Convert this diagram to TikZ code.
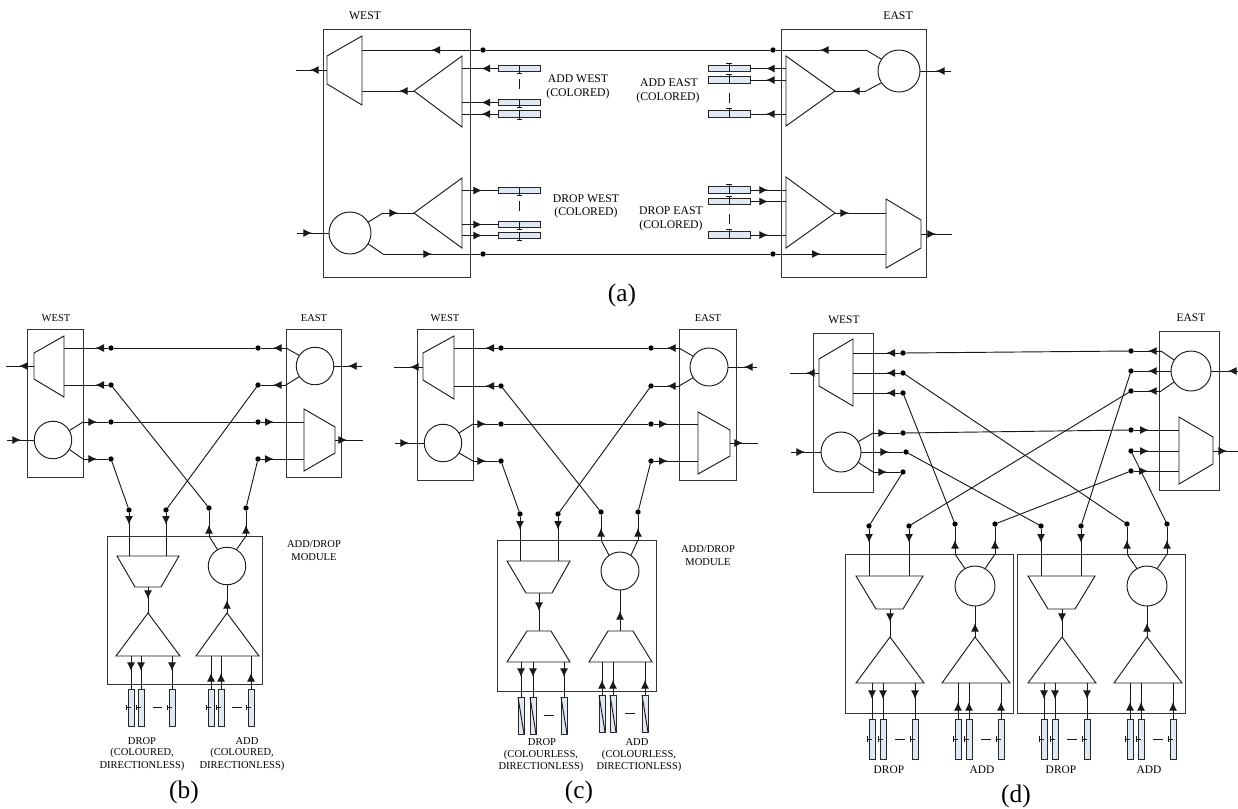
\documentclass[tikz,border=0pt]{standalone}
\usepackage{fontspec}
\setmainfont{Liberation Serif}
\usetikzlibrary{decorations.markings,arrows.meta}
\tikzset{
 x=0.75pt,y=-0.75pt,
 wire/.style={line width=0.7pt,draw=black!90},
 arr/.style={postaction={decorate},decoration={markings,mark=at position #1*0.75pt with {\arrow{Latex[length=6.5pt,width=6pt]}}}},
 shp/.style={line width=0.7pt,draw=black!90,line join=miter},
 boxn/.style={rectangle,draw=black!80,line width=0.7pt,inner sep=0pt,outer sep=0pt},
 dotn/.style={circle,fill=black,inner sep=0pt,minimum size=4pt,outer sep=0pt},
 ring/.style={circle,draw=black!90,line width=0.7pt,inner sep=0pt,outer sep=0pt,minimum size=#1*0.75pt},
 txh/.style={rectangle,draw=black!85,fill=txfill,line width=0.7pt,inner sep=0pt,outer sep=0pt,minimum width=31.5pt,minimum height=5pt},
 txv/.style={rectangle,draw=black!85,fill=txfill,line width=0.7pt,inner sep=0pt,outer sep=0pt,minimum width=4.5pt,minimum height=#1*0.75pt},
 lbla/.style={font=\fontsize{8.8pt}{10pt}\selectfont,inner sep=0pt},
 lblb/.style={font=\fontsize{7.9pt}{9pt}\selectfont,inner sep=0pt},
 lbld/.style={font=\fontsize{8.6pt}{10pt}\selectfont,inner sep=0pt},
 capn/.style={font=\fontsize{19pt}{21pt}\selectfont,inner sep=0pt},
}
\definecolor{txfill}{HTML}{E0E8F4}
\newcommand{\Pt}[2]{\coordinate (#1) at (#2);}
\newcommand{\Dot}[2]{\node[dotn] (#1) at (#2) {};}
% horizontal transceiver: tick below (B) or above (T)
\newcommand{\TxB}[2]{\node[txh] (#1) at (#2) {};
 \draw[wire] (#1.north) -- ([yshift=-1.5pt]#1.south);
 \draw[wire] ([xshift=-2.2pt,yshift=-1.5pt]#1.south) -- ([xshift=2.2pt,yshift=-1.5pt]#1.south);}
\newcommand{\TxT}[2]{\node[txh] (#1) at (#2) {};
 \draw[wire] (#1.south) -- ([yshift=1.5pt]#1.north);
 \draw[wire] ([xshift=-2.2pt,yshift=1.5pt]#1.north) -- ([xshift=2.2pt,yshift=1.5pt]#1.north);}
% vertical transceiver with side tick
\newcommand{\TxV}[3]{\node[txv=#3] (#1) at (#2) {};
 \draw[wire] (#1.center) -- ([xshift=-1.5pt]#1.west);
 \draw[wire] ([xshift=-1.5pt,yshift=-2.2pt]#1.west) -- ([xshift=-1.5pt,yshift=2.2pt]#1.west);}
\newcommand{\TxZ}[3]{\node[txv=#3] (#1) at (#2) {};
 \draw[wire] (#1.north west) -- (#1.south east);}
\begin{document}
\begin{tikzpicture}
\useasboundingbox (0,0) rectangle (1238,808);
%% ---------------- panel (a) ----------------
\node[boxn,minimum width=110.25pt,minimum height=186pt] (aWest) at (396.5,153) {};
\node[boxn,minimum width=108.75pt,minimum height=186pt] (aEast) at (853.5,153) {};
\node[lbla] (aWestL) at (365,16) {WEST};
\node[lbla] (aEastL) at (898,16) {EAST};
\draw[shp] (362,36)--(327,56)--(327,84)--(362,105)--cycle;
\draw[shp] (414,91)--(462,56)--(462,127)--cycle;
\draw[shp] (414,213)--(462,178)--(462,248)--cycle;
\draw[shp] (835,91)--(786,56)--(786,126)--cycle;
\draw[shp] (835,213)--(786,177)--(786,248)--cycle;
\draw[shp] (886,199)--(921,220)--(921,248)--(886,268)--cycle;
\node[ring=42] (aCW) at (350,233) {};
\node[ring=42] (aCE) at (899,71) {};
\Dot{aD1}{483,50}\Dot{aD2}{773,50}\Dot{aD3}{483,254}\Dot{aD4}{773,254}
\Pt{aM1}{362,50}\Pt{aB1}{866,50}\Pt{aB2}{866,91}\Pt{aAp1}{835,91}\Pt{aAp2}{414,91}\Pt{aM2}{362,91}
\Pt{aOutW}{296,70}\Pt{aMW}{327,70}\Pt{aInW}{297,233}\Pt{aInE}{951,71}
\Pt{aB3}{383,213}\Pt{aAp3}{414,213}\Pt{aB4}{383,254}\Pt{aAp4}{835,213}\Pt{aM3}{886,213}\Pt{aM4}{886,254}
\Pt{aME}{921,234}\Pt{aOutE}{952,234}
\draw[wire] (aCE.146) -- (aB1);
\draw[wire,arr=46] (aB1) -- (aD2);
\draw[wire] (aD2) -- (aD1);
\draw[wire,arr=49] (aD1) -- (aM1);
\draw[wire] (aCE.214) -- (aB2);
\draw[wire,arr=15] (aB2) -- (aAp1);
\draw[wire,arr=15] (aAp2) -- (aM2);
\draw[wire,arr=17] (aMW) -- (aOutW);
\draw[wire,arr=15] (aInW) -- (aCW.west);
\draw[wire,arr=15] (aInE) -- (aCE.east);
\draw[wire] (aCW.31) -- (aB3);
\draw[wire,arr=15] (aB3) -- (aAp3);
\draw[wire] (aCW.-31) -- (aB4);
\draw[wire,arr=49] (aB4) -- (aD3);
\draw[wire] (aD3) -- (aD4);
\draw[wire,arr=45] (aD4) -- (aM4);
\draw[wire,arr=14] (aAp4) -- (aM3);
\draw[wire,arr=15] (aME) -- (aOutE);
\Pt{aBaseW}{462,0}\Pt{aBaseE}{786,0}
\TxB{aWA1}{519.5,68.5}\TxB{aWA2}{519.5,102.5}\TxB{aWA3}{519.5,114}
\TxB{aWD1}{519.5,190.5}\TxB{aWD2}{519.5,224.5}\TxB{aWD3}{519.5,235.5}
\TxT{aEA1}{729,68.5}\TxT{aEA2}{729,80}\TxT{aEA3}{729,114}
\TxT{aED1}{729,190}\TxT{aED2}{729,201.5}\TxT{aED3}{729,235}
\foreach \n in {1,2,3}{
 \draw[wire,arr=17] (aWA\n.west) -- (aWA\n.west -| aBaseW);
 \draw[wire,arr=20] (aWD\n.west -| aBaseW) -- (aWD\n.west);
 \draw[wire,arr=20] (aEA\n.east -| aBaseE) -- (aEA\n.east);
 \draw[wire,arr=18] (aED\n.east) -- (aED\n.east -| aBaseE);
}
\Pt{aDa1}{519,79}\Pt{aDa2}{519,89}\draw[wire] (aDa1) -- (aDa2);
\Pt{aDb1}{519,201}\Pt{aDb2}{519,211}\draw[wire] (aDb1) -- (aDb2);
\Pt{aDc1}{729,93}\Pt{aDc2}{729,103}\draw[wire] (aDc1) -- (aDc2);
\Pt{aDd1}{729,214}\Pt{aDd2}{729,224}\draw[wire] (aDd1) -- (aDd2);
\node[lbla] (aT1) at (578,79) {ADD WEST};
\node[lbla] (aT2) at (578,94) {(COLORED)};
\node[lbla] (aT3) at (586,199) {DROP WEST};
\node[lbla] (aT4) at (586,213) {(COLORED)};
\node[lbla] (aT5) at (669,83) {ADD EAST};
\node[lbla] (aT6) at (668,98) {(COLORED)};
\node[lbla] (aT7) at (671,211) {DROP EAST};
\node[lbla] (aT8) at (671,226) {(COLORED)};
\node[capn] (aCap) at (622,295) {(a)};
%% ---------------- panel (b) ----------------
\node[boxn,minimum width=42pt,minimum height=111pt] (bWest) at (55,403) {};
\node[boxn,minimum width=41.25pt,minimum height=111pt] (bEast) at (313.5,403) {};
\node[lblb] (bWestL) at (56,318) {WEST};
\node[lblb] (bEastL) at (314,318) {EAST};
\draw[shp] (64,336)--(34,353)--(34,379)--(64,397)--cycle;
\draw[shp] (304,409)--(335,427)--(335,453)--(304,471)--cycle;
\node[ring=37.5] (bCW) at (53,440) {};
\node[ring=37.5] (bCE) at (315,366) {};
\foreach \n/\y in {1/348,2/385,3/422,4/459}{\Dot{bW\n}{111,\y}\Dot{bE\n}{258,\y}}
\Dot{bD1}{129,510}\Dot{bD2}{166,510}\Dot{bA1}{209,508}\Dot{bA2}{246,508}
\Pt{bM1}{64,348}\Pt{bM2}{64,385}\Pt{bB3}{83,422}\Pt{bB4}{83,459}\Pt{bB1}{286,348}\Pt{bB2}{286,385}
\Pt{bM3}{304,422}\Pt{bM4}{304,459}\Pt{bOW}{6,366}\Pt{bMW}{34,366}\Pt{bIW}{7,440}\Pt{bIE}{362,366}\Pt{bME}{335,440}\Pt{bOE}{363,440}
\draw[wire,arr=13] (bW1) -- (bM1);\draw[wire,arr=13] (bW2) -- (bM2);
\draw[wire] (bW1) -- (bE1);\draw[wire] (bW3) -- (bE3);
\draw[wire] (bCW.30) -- (bB3);\draw[wire] (bCW.-30) -- (bB4);
\draw[wire,arr=14] (bB3) -- (bW3);\draw[wire,arr=14] (bB4) -- (bW4);
\draw[wire] (bCE.146) -- (bB1);\draw[wire] (bCE.214) -- (bB2);
\draw[wire,arr=13] (bB1) -- (bE1);\draw[wire,arr=13] (bB2) -- (bE2);
\draw[wire,arr=13] (bE3) -- (bM3);\draw[wire,arr=13] (bE4) -- (bM4);
\draw[wire,arr=15] (bMW) -- (bOW);\draw[wire,arr=14] (bIW) -- (bCW.west);
\draw[wire,arr=14] (bIE) -- (bCE.east);\draw[wire,arr=12] (bME) -- (bOE);
\draw[wire] (bW4) -- (bD1);\draw[wire] (bE2) -- (bD2);\draw[wire] (bW2) -- (bA1);\draw[wire] (bE4) -- (bA2);
\node[boxn,minimum width=116.25pt,minimum height=111pt] (bMod) at (184.5,610) {};
\draw[shp] (117,556)--(179,556)--(161,587)--(135,587)--cycle;
\node[ring=37.5] (bCA) at (227,566) {};
\draw[shp] (148,613)--(116,656)--(180,656)--cycle;
\draw[shp] (227,613)--(196,656)--(259,656)--cycle;
\Pt{bT1}{129,556}\Pt{bT2}{166,556}\Pt{bU1}{209,536}\Pt{bU2}{246,536}
\Pt{bS1}{148,587}\Pt{bS2}{148,613}\Pt{bS3}{227,613}\Pt{bBase}{0,656}
\draw[wire,arr=12] (bD1) -- (bT1);\draw[wire,arr=12] (bD2) -- (bT2);
\draw[wire] (bCA.120) -- (bU1);\draw[wire] (bCA.60) -- (bU2);
\draw[wire,arr=11] (bU1) -- (bA1);\draw[wire,arr=11] (bU2) -- (bA2);
\draw[wire,arr=12] (bS1) -- (bS2);
\draw[wire,arr=13] (bS3) -- (bCA.south);
\foreach \n/\x in {1/131,2/141,3/172}{
 \TxV{bTd\n}{\x,707.5}{37}
 \draw[wire,arr=15] (bTd\n.north |- bBase) -- (bTd\n.north);}
\foreach \n/\x in {1/211,2/221,3/251}{
 \TxV{bTa\n}{\x,707.5}{37}
 \draw[wire,arr=16] (bTa\n.north) -- (bTa\n.north |- bBase);}
\Pt{bDs1}{153,707}\Pt{bDs2}{162,707}\draw[wire] (bDs1) -- (bDs2);
\Pt{bDs3}{232,707}\Pt{bDs4}{242,707}\draw[wire] (bDs3) -- (bDs4);
\node[lblb] (bT3) at (142,741) {DROP};
\node[lblb] (bT4) at (142,753) {(COLOURED,};
\node[lblb] (bT5) at (142,766) {DIRECTIONLESS)};
\node[lblb] (bT6) at (247,741) {ADD};
\node[lblb] (bT7) at (242,753) {(COLOURED,};
\node[lblb] (bT8) at (242,766) {DIRECTIONLESS)};
\node[lblb] (bT9) at (314,544) {ADD/DROP};
\node[lblb] (bT10) at (314,557) {MODULE};
\node[capn] (bCap) at (184,792) {(b)};
%% ---------------- panel (c) ----------------
\node[boxn,minimum width=42pt,minimum height=113.25pt] (cWest) at (445,404.5) {};
\node[boxn,minimum width=42.75pt,minimum height=113.25pt] (cEast) at (707.5,404.5) {};
\node[lblb] (cWestL) at (445,318) {WEST};
\node[lblb] (cEastL) at (708,318) {EAST};
\draw[shp] (454,336)--(423,353)--(423,380)--(454,399)--cycle;
\draw[shp] (698,412)--(730,430)--(730,456)--(698,474)--cycle;
\node[ring=37.5] (cCW) at (443,443) {};
\node[ring=38] (cCE) at (709,367) {};
\foreach \n/\y in {1/348,2/386,3/424,4/461}{\Dot{cW\n}{501,\y}\Dot{cE\n}{651,\y}}
\Dot{cD1}{520,514}\Dot{cD2}{558,514}\Dot{cA1}{601,512}\Dot{cA2}{638,512}
\Pt{cM1}{454,348}\Pt{cM2}{454,386}\Pt{cB3}{473,424}\Pt{cB4}{473,461}\Pt{cB1}{679,348}\Pt{cB2}{679,386}
\Pt{cM3}{698,424}\Pt{cM4}{698,461}\Pt{cOW}{394,367}\Pt{cMW}{423,367}\Pt{cIW}{395,443}\Pt{cIE}{757,367}\Pt{cME}{730,443}\Pt{cOE}{758,443}
\draw[wire,arr=13] (cW1) -- (cM1);\draw[wire,arr=13] (cW2) -- (cM2);
\draw[wire] (cW1) -- (cE1);\draw[wire] (cW3) -- (cE3);
\draw[wire] (cCW.32) -- (cB3);\draw[wire] (cCW.-32) -- (cB4);
\draw[wire,arr=13] (cB3) -- (cW3);\draw[wire,arr=13] (cB4) -- (cW4);
\draw[wire] (cCE.146) -- (cB1);\draw[wire] (cCE.214) -- (cB2);
\draw[wire,arr=12] (cB1) -- (cE1);\draw[wire,arr=12] (cB2) -- (cE2);
\draw[wire,arr=14] (cE3) -- (cM3);\draw[wire,arr=14] (cE4) -- (cM4);
\draw[wire,arr=13] (cMW) -- (cOW);\draw[wire,arr=14] (cIW) -- (cCW.west);
\draw[wire,arr=13] (cIE) -- (cCE.east);\draw[wire,arr=13] (cME) -- (cOE);
\draw[wire] (cW4) -- (cD1);\draw[wire] (cE2) -- (cD2);\draw[wire] (cW2) -- (cA1);\draw[wire] (cE4) -- (cA2);
\node[boxn,minimum width=119.25pt,minimum height=113.25pt] (cMod) at (576.5,615.5) {};
\draw[shp] (507,561)--(570,561)--(552,593)--(526,593)--cycle;
\node[ring=38] (cCA) at (620,571) {};
\draw[shp] (527,631)--(551,631)--(570,662)--(507,662)--cycle;
\draw[shp] (608,631)--(633,631)--(652,662)--(589,662)--cycle;
\Pt{cT1}{520,561}\Pt{cT2}{558,561}\Pt{cU1}{601,540}\Pt{cU2}{638,540}
\Pt{cS1}{539,593}\Pt{cS2}{539,631}\Pt{cS3}{620,631}\Pt{cBase}{0,662}
\draw[wire,arr=13] (cD1) -- (cT1);\draw[wire,arr=13] (cD2) -- (cT2);
\draw[wire] (cCA.125) -- (cU1);\draw[wire] (cCA.55) -- (cU2);
\draw[wire,arr=12] (cU1) -- (cA1);\draw[wire,arr=12] (cU2) -- (cA2);
\draw[wire,arr=18] (cS1) -- (cS2);
\draw[wire,arr=20] (cS3) -- (cCA.south);
\foreach \n/\x in {1/521,2/533,3/564}{
 \TxZ{cTd\n}{\x,715.5}{37}
 \draw[wire,arr=15] (cTd\n.north |- cBase) -- (cTd\n.north);}
\foreach \n/\x in {1/602,2/613,3/645}{
 \TxZ{cTa\n}{\x,713.5}{37}
 \draw[wire,arr=15] (cTa\n.north) -- (cTa\n.north |- cBase);}
\Pt{cDs1}{544,715}\Pt{cDs2}{554,715}\draw[wire] (cDs1) -- (cDs2);
\Pt{cDs3}{625,713}\Pt{cDs4}{635,713}\draw[wire] (cDs3) -- (cDs4);
\node[lblb] (cT3) at (542,742) {DROP};
\node[lblb] (cT4) at (541,755) {(COLOURLESS,};
\node[lblb] (cT5) at (541,767) {DIRECTIONLESS)};
\node[lblb] (cT6) at (637,742) {ADD};
\node[lblb] (cT7) at (639,755) {(COLOURLESS,};
\node[lblb] (cT8) at (639,767) {DIRECTIONLESS)};
\node[lblb] (cT9) at (708,549) {ADD/DROP};
\node[lblb] (cT10) at (708,562) {MODULE};
\node[capn] (cCap) at (579,792) {(c)};
%% ---------------- panel (d) ----------------
\node[boxn,minimum width=45pt,minimum height=119.25pt] (dWest) at (843,412.5) {};
\node[boxn,minimum width=45pt,minimum height=119.25pt] (dEast) at (1189,410.5) {};
\node[lbld] (dWestL) at (844,320) {WEST};
\node[lbld] (dEastL) at (1191,318) {EAST};
\draw[shp] (853,339)--(819,359)--(819,386)--(853,406)--cycle;
\draw[shp] (1179,417)--(1213,437)--(1213,464)--(1179,484)--cycle;
\node[ring=40] (dCW) at (841,452) {};
\node[ring=40] (dCE) at (1191,371) {};
\Dot{dW1}{903,353}\Dot{dW2}{903,373}\Dot{dW3}{903,393}
\Dot{dW4}{903,433}\Dot{dW5}{906,452}\Dot{dW6}{903,472}
\Dot{dE1}{1131,351}\Dot{dE2}{1131,371}\Dot{dE3}{1131,391}
\Dot{dE4}{1131,430}\Dot{dE5}{1131,451}\Dot{dE6}{1131,471}
\Pt{dM1}{853,353}\Pt{dM2}{853,373}\Pt{dM3}{853,393}
\Pt{dB4}{873,433}\Pt{dB6}{873,472}\Pt{dB1}{1161,351}\Pt{dB3}{1161,391}
\Pt{dM4}{1179,430}\Pt{dM5}{1179,451}\Pt{dM6}{1179,471}
\Pt{dOW}{790,373}\Pt{dMW}{819,373}\Pt{dIW}{791,452}\Pt{dIE}{1238,371}\Pt{dME}{1213,451}\Pt{dOE}{1238,451}
\foreach \n in {1,2,3}{\draw[wire,arr=14] (dW\n) -- (dM\n);}
\draw[wire] (dW1) -- (dE1);\draw[wire] (dW4) -- (dE4);
\draw[wire] (dCW.31) -- (dB4);\draw[wire] (dCW.-31) -- (dB6);
\draw[wire,arr=14] (dB4) -- (dW4);\draw[wire,arr=14] (dB6) -- (dW6);
\draw[wire,arr=28] (dCW.east) -- (dW5);
\draw[wire] (dCE.147) -- (dB1);\draw[wire] (dCE.213) -- (dB3);
\draw[wire,arr=13] (dB1) -- (dE1);\draw[wire,arr=13] (dB3) -- (dE3);
\draw[wire,arr=23] (dCE.west) -- (dE2);
\draw[wire,arr=15] (dE4) -- (dM4);\draw[wire,arr=15] (dE5) -- (dM5);\draw[wire,arr=14] (dE6) -- (dM6);
\draw[wire,arr=13] (dMW) -- (dOW);\draw[wire,arr=14] (dIW) -- (dCW.west);
\draw[wire,arr=10] (dIE) -- (dCE.east);\draw[wire,arr=14] (dME) -- (dOE);
\foreach \m/\s in {P/0,Q/172}{
 \begin{scope}[xshift=\s*0.75pt]
 \node[boxn,minimum width=125.5pt,minimum height=119.25pt] (dBox\m) at (929.5,633.5) {};
 \draw[shp] (856,576)--(923,576)--(903,609)--(876,609)--cycle;
 \node[ring=40] (dC\m) at (975,586) {};
 \draw[shp] (890,637)--(856,683)--(924,683)--cycle;
 \draw[shp] (975,637)--(942,683)--(1010,683)--cycle;
 \Dot{dD\m1}{869,526}\Dot{dD\m2}{909,526}\Dot{dA\m1}{955,524}\Dot{dA\m2}{995,524}
 \Pt{dT\m1}{869,576}\Pt{dT\m2}{909,576}\Pt{dU\m1}{955,554}\Pt{dU\m2}{995,554}
 \Pt{dS\m1}{890,609}\Pt{dS\m2}{890,637}\Pt{dS\m3}{975,637}\Pt{dBase\m}{0,683}
 \draw[wire,arr=14] (dD\m1) -- (dT\m1);\draw[wire,arr=14] (dD\m2) -- (dT\m2);
 \draw[wire] (dC\m.120) -- (dU\m1);\draw[wire] (dC\m.60) -- (dU\m2);
 \draw[wire,arr=14] (dU\m1) -- (dA\m1);\draw[wire,arr=14] (dU\m2) -- (dA\m2);
 \draw[wire,arr=13] (dS\m1) -- (dS\m2);
 \draw[wire,arr=14] (dS\m3) -- (dC\m.south);
 \foreach \n/\x in {1/872,2/883,3/915}{
  \TxV{dTd\m\n}{\x,739}{40}
  \draw[wire,arr=16] (dTd\m\n.north |- dBase\m) -- (dTd\m\n.north);}
 \foreach \n/\x in {1/958,2/969,3/1001}{
  \TxV{dTa\m\n}{\x,739}{40}
  \draw[wire,arr=17] (dTa\m\n.north) -- (dTa\m\n.north |- dBase\m);}
 \Pt{dDs\m1}{895,739}\Pt{dDs\m2}{905,739}\draw[wire] (dDs\m1) -- (dDs\m2);
 \Pt{dDs\m3}{981,739}\Pt{dDs\m4}{991,739}\draw[wire] (dDs\m3) -- (dDs\m4);
 \end{scope}
}
\draw[wire] (dW6) -- (dDP1);\draw[wire] (dE3) -- (dDP2);\draw[wire] (dW3) -- (dAP1);\draw[wire] (dE6) -- (dAP2);
\draw[wire] (dW5) -- (dDQ1);\draw[wire] (dE2) -- (dDQ2);\draw[wire] (dW2) -- (dAQ1);\draw[wire] (dE5) -- (dAQ2);
\node[lbld] (dT1) at (889,770) {DROP};
\node[lbld] (dT2) at (982,770) {ADD};
\node[lbld] (dT3) at (1061,770) {DROP};
\node[lbld] (dT4) at (1149,770) {ADD};
\node[capn] (dCap) at (1016,796) {(d)};
\end{tikzpicture}
\end{document}
